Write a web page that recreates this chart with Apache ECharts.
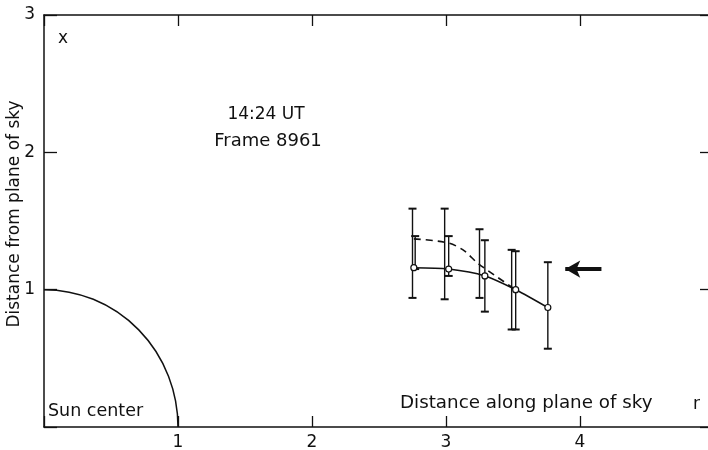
<!DOCTYPE html>
<html>
<head>
<meta charset="utf-8">
<script src="https://cdn.jsdelivr.net/npm/echarts@6/dist/echarts.min.js"></script>
<style>
html,body{margin:0;padding:0;background:#fff;}
#chart{width:708px;height:450px;}
</style>
</head>
<body>
<div id="chart"></div>
<script>
// ---- data ----
const xTickLabels = [1, 2, 3, 4];
const yTickLabels = [1, 2, 3];
const solidPoints = [[2.76, 1.16], [3.02, 1.15], [3.29, 1.10], [3.52, 1.00], [3.76, 0.87]];
const dashedPoints = [[2.76, 1.37], [3.02, 1.34], [3.14, 1.28], [3.24, 1.19], [3.52, 1.00]];
// [x, low, high]
const errorBars = [
  [2.75, 0.94, 1.59], [2.77, 1.15, 1.39],
  [2.99, 0.93, 1.59], [3.02, 1.10, 1.39],
  [3.25, 0.94, 1.44], [3.29, 0.84, 1.36],
  [3.49, 0.71, 1.29], [3.52, 0.71, 1.28],
  [3.76, 0.57, 1.20]
];
const arrowFrom = [4.16, 1.15];
const arrowTo = [3.89, 1.15];
const sunCircle = [[0, 0, 1]]; // centre x, centre y, radius
const annotations = {
  corner: 'x',
  time: '14:24 UT',
  frame: 'Frame 8961',
  sun: 'Sun center',
  xName: 'Distance along plane of sky',
  xSym: 'r',
  yName: 'Distance from plane of sky'
};

const FONT = 'DejaVu Sans';
const INK = '#111';
const chart = echarts.init(document.getElementById('chart'), null, {renderer: 'canvas'});

const txt = (x, y, text, align, size) => ({
  type: 'text', x: x, y: y,
  style: {text: text, fill: INK, font: (size || 17) + 'px "' + FONT + '"', textAlign: align || 'left', textVerticalAlign: 'middle'}
});

const axisCommon = {
  type: 'value', min: 0, splitLine: {show: false},
  axisLine: {show: true, onZero: false, lineStyle: {color: INK, width: 1.5}},
  axisTick: {show: true, inside: true, length: 11, lineStyle: {color: INK, width: 1.3}},
  axisLabel: {color: INK, fontFamily: FONT, fontSize: 17}
};

chart.setOption({
  animation: false,
  backgroundColor: '#fff',
  grid: {left: 44, top: 15, right: -6, bottom: 23, outerBoundsMode: 'none', containLabel: false},
  xAxis: [
    Object.assign({}, axisCommon, {
      position: 'bottom', max: 5, interval: 1,
      axisLabel: Object.assign({}, axisCommon.axisLabel, {
        margin: 7,
        formatter: v => xTickLabels.indexOf(v) >= 0 ? String(v) : ''
      })
    }),
    Object.assign({}, axisCommon, {
      position: 'top', max: 5, interval: 1, axisLabel: {show: false}
    })
  ],
  yAxis: [
    Object.assign({}, axisCommon, {
      position: 'left', max: 3, interval: 1,
      axisTick: Object.assign({}, axisCommon.axisTick, {length: 13}),
      axisLabel: Object.assign({}, axisCommon.axisLabel, {
        margin: 9,
        formatter: v => yTickLabels.indexOf(v) >= 0 ? String(v) : ''
      })
    }),
    Object.assign({}, axisCommon, {
      position: 'right', max: 3, interval: 1, axisLabel: {show: false},
      axisTick: Object.assign({}, axisCommon.axisTick, {length: 14})
    })
  ],
  graphic: [
    txt(58, 39, annotations.corner),
    txt(266, 115, annotations.time, 'center'),
    txt(268, 141, annotations.frame, 'center', 18),
    txt(48, 411, annotations.sun, 'left', 17.5),
    txt(400, 403, annotations.xName, 'left', 18.3),
    txt(693, 405, annotations.xSym),
    {
      type: 'text', x: 15, y: 214, rotation: Math.PI / 2,
      style: {text: annotations.yName, fill: INK, font: '17px "' + FONT + '"', textAlign: 'center', textVerticalAlign: 'middle'}
    }
  ],
  series: [
    {
      type: 'custom', name: 'sun', data: sunCircle, silent: true, clip: false,
      renderItem: (params, api) => {
        const c = api.coord([api.value(0), api.value(1)]);
        const s = api.size([api.value(2), api.value(2)]);
        const rx = s[0], ry = s[1];
        return {
          type: 'path',
          shape: {pathData: 'M ' + c[0] + ' ' + (c[1] - ry) + ' A ' + rx + ' ' + ry + ' 0 0 1 ' + (c[0] + rx) + ' ' + c[1]},
          style: {fill: null, stroke: INK, lineWidth: 1.5}
        };
      }
    },
    {
      type: 'custom', name: 'errors', data: errorBars, silent: true,
      renderItem: (params, api) => {
        const lo = api.coord([api.value(0), api.value(1)]);
        const hi = api.coord([api.value(0), api.value(2)]);
        const w = 4;
        const st = {stroke: INK, lineWidth: 1.4};
        return {
          type: 'group',
          children: [
            {type: 'line', shape: {x1: lo[0], y1: lo[1], x2: hi[0], y2: hi[1]}, style: st},
            {type: 'line', shape: {x1: lo[0] - w, y1: lo[1], x2: lo[0] + w, y2: lo[1]}, style: {stroke: INK, lineWidth: 2}},
            {type: 'line', shape: {x1: hi[0] - w, y1: hi[1], x2: hi[0] + w, y2: hi[1]}, style: {stroke: INK, lineWidth: 2}}
          ]
        };
      }
    },
    {
      type: 'line', name: 'dashed', data: dashedPoints, smooth: 0.3, showSymbol: false,
      lineStyle: {color: INK, width: 1.6, type: [7, 5]}, silent: true
    },
    {
      type: 'line', name: 'solid', data: solidPoints, smooth: 0.3,
      symbol: 'circle', symbolSize: 6, showSymbol: true,
      lineStyle: {color: INK, width: 1.6},
      itemStyle: {color: '#fff', borderColor: INK, borderWidth: 1.2},
      z: 5, silent: true,
      markLine: {
        silent: true, animation: false,
        label: {show: false},
        lineStyle: {color: INK, width: 4, type: 'solid'},
        symbolSize: [13, 15],
        data: [[
          {coord: arrowFrom, symbol: 'none'},
          {coord: arrowTo, symbol: 'arrow'}
        ]]
      }
    }
  ]
});
</script>
</body>
</html>
